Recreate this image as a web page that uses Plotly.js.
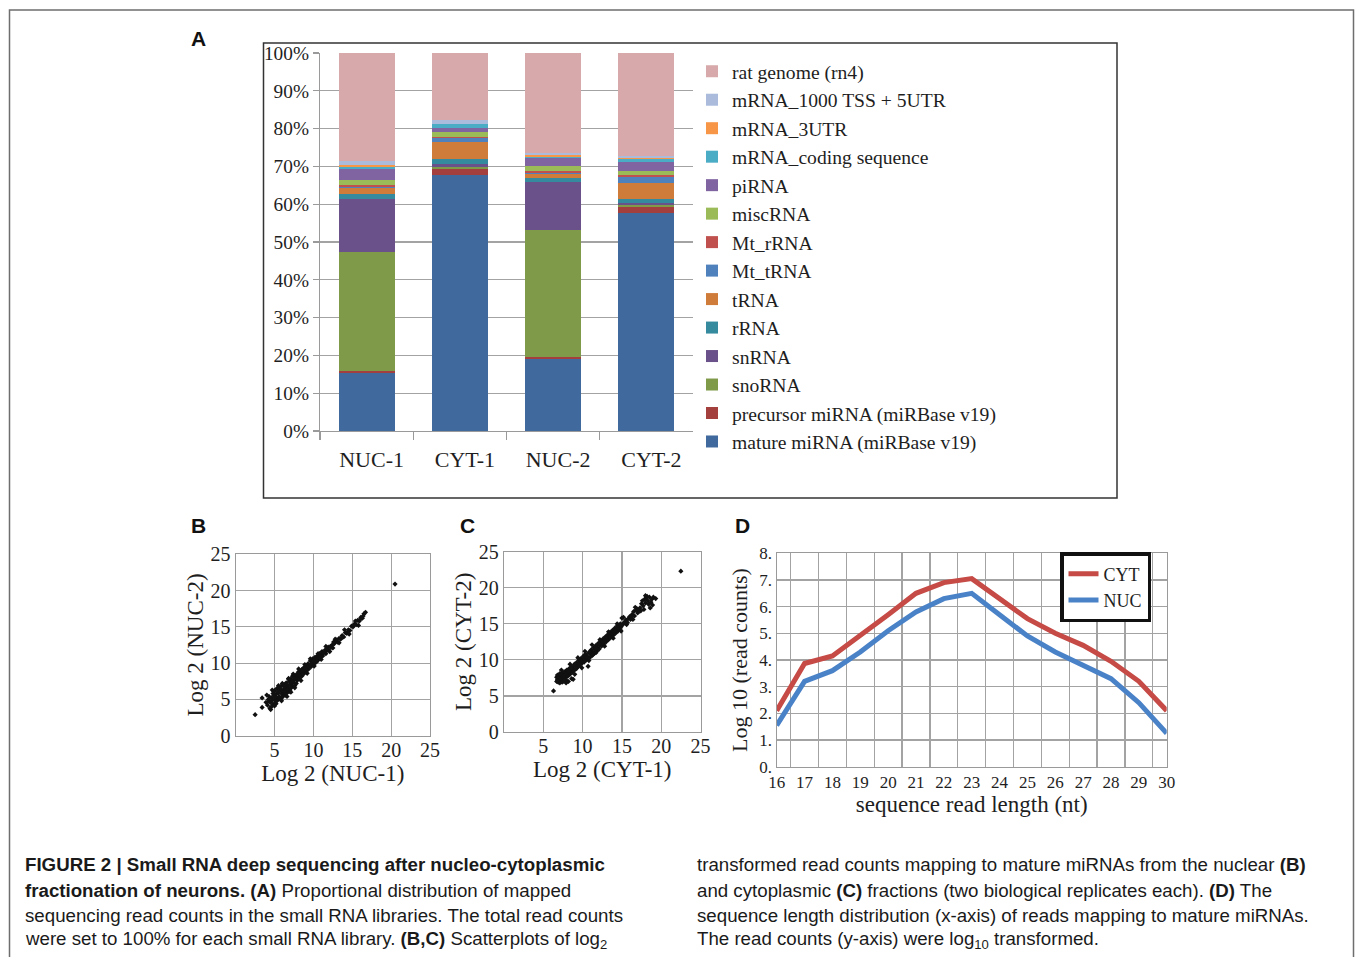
<!DOCTYPE html>
<html>
<head>
<meta charset="utf-8">
<script src="https://cdn.plot.ly/plotly-3.0.1.min.js"></script>
<style>html,body{margin:0;padding:0;background:#fff;}#chart{width:1355px;height:957px;}</style>
</head>
<body>
<div id="chart"></div>
<script>
// ---------- Panel A data (percent of reads) ----------
const categories = ['NUC-1', 'CYT-1', 'NUC-2', 'CYT-2'];
const matureMiRNA    = [15.3, 67.8, 19.0, 57.7];
const precursorMiRNA = [0.5, 1.6, 0.6, 1.6];
const snoRNA         = [31.5, 0.4, 33.7, 0.4];
const snRNA          = [14.2, 0.9, 12.5, 0.6];
const rRNA           = [1.1, 1.2, 1.1, 1.1];
const tRNA           = [1.65, 4.6, 1.1, 4.3];
const MtTRNA         = [0.35, 1.0, 0.3, 1.4];
const MtRRNA         = [0.6, 0.2, 0.55, 0.5];
const miscRNA        = [1.2, 1.3, 1.15, 1.1];
const piRNA          = [3.0, 1.2, 2.1, 2.4];
const mRNAcoding     = [0.4, 0.9, 0.5, 0.8];
const mRNA3UTR       = [0.5, 0.2, 0.3, 0.2];
const mRNA5UTR       = [1.1, 1.1, 0.7, 0.7];
const ratGenome      = [28.6, 17.6, 26.4, 27.2];

const pctTicks  = [0, 10, 20, 30, 40, 50, 60, 70, 80, 90, 100];
const pctLabels = ['0%', '10%', '20%', '30%', '40%', '50%', '60%', '70%', '80%', '90%', '100%'];

// ---------- Panel B data: log2 NUC-1 vs NUC-2 ----------
const nucPairs = [
 [2.5,2.9],[3.4,3.9],[3.4,5.2],[3.9,4.6],[4.1,4.2],[4.2,5.0],[4.3,5.4],[4.4,3.8],[4.5,4.6],[4.6,5.2],
 [4.7,4.9],[4.8,5.8],[4.8,4.3],[4.9,5.5],[5.0,5.0],[5.0,6.2],[5.1,4.6],[5.2,5.7],[5.3,5.2],[5.3,6.5],
 [5.4,4.9],[5.5,5.9],[5.6,5.4],[5.7,6.3],[5.8,5.0],[5.8,6.8],[5.9,5.8],[6.0,6.1],[6.1,5.5],[6.1,6.9],
 [6.2,6.4],[6.3,5.8],[6.4,6.7],[6.5,6.2],[6.5,7.3],[6.6,5.9],[6.7,6.9],[6.8,6.5],[6.9,7.5],[7.0,7.0],
 [7.0,6.3],[7.1,7.8],[7.2,7.2],[7.3,6.8],[7.4,7.6],[7.5,8.1],[7.5,7.3],[7.6,6.9],[7.7,7.9],[7.8,8.4],
 [7.9,7.6],[8.0,8.1],[8.1,8.8],[8.2,7.9],[8.3,8.4],[8.4,8.9],[8.5,8.2],[8.6,8.7],[8.7,9.3],[8.8,8.6],
 [8.9,9.0],[9.0,9.6],[9.1,8.9],[9.2,9.3],[9.3,9.9],[9.4,9.2],[9.5,9.7],[9.6,10.3],[9.7,9.5],[9.8,10.0],
 [9.9,10.6],[10.0,9.8],[10.1,10.3],[10.2,10.8],[10.3,10.1],[10.4,10.5],[10.5,11.0],[10.6,10.4],[10.7,10.8],[10.8,11.3],
 [10.9,10.7],[11.0,11.1],[11.1,11.6],[11.2,11.0],[11.3,11.4],[11.5,11.8],[11.6,11.3],[11.7,11.7],[11.9,12.2],[12.0,11.8],
 [12.2,12.3],[12.4,12.5],[12.5,12.1],[12.7,12.7],[12.9,13.0],[13.1,12.9],[13.3,13.4],[13.5,13.3],[13.7,13.8],[13.9,13.6],
 [14.1,14.2],[14.3,14.1],[14.5,14.6],[14.7,14.5],[14.9,15.1],[15.1,15.0],[15.3,15.4],[15.5,15.3],[15.7,15.9],[15.9,15.8],
 [16.1,16.3],[16.3,16.2],[16.5,16.8],[16.7,17.0],[20.5,20.9],
 [4.3,4.7],[4.6,4.0],[4.9,6.1],[5.1,5.3],[5.2,4.4],[5.4,6.0],[5.6,6.6],[5.7,5.1],[5.9,6.3],[6.0,5.3],
 [6.2,7.0],[6.3,6.1],[6.4,5.6],[6.6,7.1],[6.7,6.4],[6.8,7.8],[6.9,6.1],[7.1,6.6],[7.2,7.5],[7.3,8.2],
 [7.6,7.8],[7.8,7.2],[8.0,8.6],[8.2,8.3],[8.5,9.1],[8.7,8.5],[9.0,9.2],[9.3,9.6],[9.6,9.7],[10.0,10.3],
 [10.4,10.2],[10.8,10.9],[11.2,11.4],[11.8,11.9],[12.3,12.2],[13.0,13.2],[13.6,13.5],[14.4,14.3],[15.2,15.2],[16.0,16.0],
 [4.0,5.6],[4.5,3.6],[4.7,6.3],[5.0,4.1],[5.5,6.9],[5.9,4.8],[6.0,7.2],[6.6,5.4],[6.8,7.9],[7.1,6.0],
 [7.4,8.5],[7.6,6.6],[8.1,9.2],[8.4,7.6],[8.9,9.8],[9.2,8.6],[9.6,10.6],[10.1,9.6],[10.6,11.3],[11.0,10.5],
 [11.6,12.3],[12.1,11.6],[12.8,13.3],[13.3,12.8],[14.0,14.6],[14.6,14.0],[15.4,15.8],[15.8,15.2],[16.4,16.5],[12.6,12.9]
];

// ---------- Panel C data: log2 CYT-1 vs CYT-2 ----------
const cytPairs = [
 [6.3,5.7],[6.7,7.0],[6.7,7.6],[6.8,7.3],[6.8,7.9],[6.9,6.9],[6.9,7.5],[7.0,7.2],[7.0,7.8],[7.1,6.8],
 [7.1,7.4],[7.2,8.0],[7.2,7.1],[7.3,7.6],[7.4,7.3],[7.4,8.2],[7.5,7.0],[7.5,7.7],[7.6,7.4],[7.7,8.0],
 [7.8,7.6],[7.8,8.4],[7.9,7.2],[8.0,7.9],[8.1,8.5],[8.2,7.0],[8.2,8.2],[8.3,8.8],[8.4,8.0],[8.5,8.5],
 [8.6,9.0],[8.7,8.3],[8.8,7.3],[8.8,8.8],[8.9,9.3],[9.0,8.6],[9.1,9.1],[9.2,9.6],[9.3,8.9],[9.4,9.4],
 [9.5,9.9],[9.6,9.2],[9.7,9.7],[9.8,10.2],[9.9,9.5],[10.0,10.0],[10.1,10.5],[10.2,9.7],[10.3,10.2],[10.4,10.8],
 [10.5,10.0],[10.6,10.5],[10.7,9.1],[10.8,11.0],[10.9,10.3],[11.0,10.8],[11.1,11.4],[11.2,10.6],[11.3,11.1],[11.4,11.7],
 [11.5,10.9],[11.6,11.4],[11.7,12.0],[11.8,11.2],[11.9,11.7],[12.0,12.3],[12.1,11.5],[12.2,12.0],[12.3,12.6],[12.4,11.9],
 [12.5,12.4],[12.6,12.9],[12.7,12.2],[12.8,12.7],[12.9,13.2],[13.0,12.5],[13.1,13.0],[13.2,13.5],[13.3,12.8],[13.4,13.3],
 [13.5,13.8],[13.6,13.1],[13.7,13.6],[13.8,14.1],[13.9,13.4],[14.0,13.9],[14.1,14.4],[14.2,13.7],[14.3,14.2],[14.4,14.7],
 [14.5,14.0],[14.6,14.5],[14.7,14.3],[14.8,15.0],[14.9,14.6],[15.0,15.8],[15.1,14.9],[15.3,15.2],[15.5,15.5],[15.6,14.9],
 [15.8,15.7],[16.0,16.0],[16.1,15.6],[16.3,16.3],[16.5,16.7],[16.6,16.1],[16.8,16.9],[17.0,16.5],[17.3,17.2],[17.5,17.8],
 [17.6,18.2],[17.7,17.5],[17.9,18.4],[18.0,17.9],[18.1,18.6],[18.3,18.2],[18.4,17.7],[18.5,18.7],[18.6,17.2],[18.7,18.0],
 [18.8,18.4],[19.3,18.5],[22.5,22.3],
 [6.8,7.1],[7.0,7.6],[7.1,8.1],[7.2,7.4],[7.3,7.9],[7.4,6.9],[7.5,8.3],[7.6,7.8],[7.7,7.2],[7.9,8.0],
 [8.0,8.6],[8.1,7.7],[8.3,8.4],[8.5,8.9],[8.6,7.4],[9.0,9.4],[9.2,8.8],[9.5,9.5],[9.8,9.8],[10.2,10.6],
 [10.5,10.3],[10.9,11.1],[11.3,10.7],[11.7,11.6],[12.1,12.2],[12.6,12.5],[13.0,13.1],[13.5,13.2],[14.1,14.0],[14.6,14.8],
 [15.4,15.1],[16.2,15.9],[16.9,17.1],[17.8,17.0],[18.2,18.8],
 [7.3,8.6],[7.9,6.8],[8.4,9.4],[9.0,8.0],[9.4,10.3],[9.9,8.9],[10.3,11.2],[10.8,9.9],[11.2,12.1],[11.7,11.0],
 [12.2,12.8],[12.8,11.9],[13.3,13.9],[13.9,13.0],[14.4,15.0],[14.9,14.0],[15.2,15.9],[15.7,15.2],[16.4,15.6],[17.2,16.8],
 [17.4,16.8],[18.0,18.9],[18.9,17.6],[19.0,18.7],[16.7,17.3]
];
const scatterTicks = [0, 5, 10, 15, 20, 25];
const scatterXTicks = [5, 10, 15, 20, 25];

// ---------- Panel D data: log10 read counts by read length ----------
const readLengths = ['16','17','18','19','20','21','22','23','24','25','26','27','28','29','30'];
const cytCounts = [2.1, 3.87, 4.15, 4.9, 5.7, 6.5, 6.9, 7.05, 6.3, 5.55, 5.0, 4.55, 3.95, 3.2, 2.1];
const nucCounts = [1.55, 3.2, 3.6, 4.3, 5.1, 5.8, 6.3, 6.5, 5.7, 4.9, 4.3, 3.8, 3.3, 2.4, 1.25];
const dTickVals = [0, 1, 2, 3, 4, 5, 6, 7, 8];
const dTickText = ['0.', '1.', '2.', '3.', '4.', '5.', '6.', '7.', '8.'];

// ---------- helpers ----------
const W = 1355, H = 957;
const fx = x => x / W;
const fy = y => 1 - y / H;
const SERIF = 'Liberation Serif, Times New Roman, serif';
const SANS = 'Liberation Sans, Arial, Helvetica, sans-serif';
const GRID = '#a3a3a3';
const TXT = '#1e1e1e';

const barSeries = [
  ['mature miRNA (miRBase v19)', matureMiRNA, '#40699d'],
  ['precursor miRNA (miRBase v19)', precursorMiRNA, '#a3403e'],
  ['snoRNA', snoRNA, '#7f9a48'],
  ['snRNA', snRNA, '#6a5189'],
  ['rRNA', rRNA, '#358a9e'],
  ['tRNA', tRNA, '#cf7b3a'],
  ['Mt_tRNA', MtTRNA, '#4f81bd'],
  ['Mt_rRNA', MtRRNA, '#c0504d'],
  ['miscRNA', miscRNA, '#9bbb59'],
  ['piRNA', piRNA, '#8064a2'],
  ['mRNA_coding sequence', mRNAcoding, '#4bacc6'],
  ['mRNA_3UTR', mRNA3UTR, '#f79646'],
  ['mRNA_1000 TSS + 5UTR', mRNA5UTR, '#aabbdb'],
  ['rat genome (rn4)', ratGenome, '#d8a9aa']
];

const traces = barSeries.map(([name, vals, color]) => ({
  type: 'bar', name: name, x: categories, y: vals,
  marker: {color: color, line: {width: 0}},
  xaxis: 'x', yaxis: 'y', legend: 'legend'
}));

traces.push({
  type: 'scatter', mode: 'markers', x: nucPairs.map(p => p[0]), y: nucPairs.map(p => p[1]),
  marker: {symbol: 'diamond', size: 4, color: '#111'}, xaxis: 'x2', yaxis: 'y2', showlegend: false
});
traces.push({
  type: 'scatter', mode: 'markers', x: cytPairs.map(p => p[0]), y: cytPairs.map(p => p[1]),
  marker: {symbol: 'diamond', size: 4, color: '#111'}, xaxis: 'x3', yaxis: 'y3', showlegend: false
});
traces.push({
  type: 'scatter', mode: 'lines', name: 'CYT', x: readLengths, y: cytCounts,
  line: {color: '#c64a45', width: 5}, xaxis: 'x4', yaxis: 'y4', legend: 'legend2'
});
traces.push({
  type: 'scatter', mode: 'lines', name: 'NUC', x: readLengths, y: nucCounts,
  line: {color: '#4a82c8', width: 5}, xaxis: 'x4', yaxis: 'y4', legend: 'legend2'
});

function scatterAxes(xd, yd, xTitle, yTitle) {
  const common = {
    range: [0, 25], showgrid: true, gridcolor: GRID, gridwidth: 1.2,
    showline: true, linecolor: '#9a9a9a', linewidth: 1.2, mirror: true,
    zeroline: false, ticks: '', tickfont: {family: SERIF, size: 20, color: TXT}, fixedrange: true
  };
  return [
    Object.assign({}, common, {domain: xd, tickvals: scatterXTicks, ticklabelstandoff: -4,
      title: {text: xTitle, font: {family: SERIF, size: 23, color: TXT}, standoff: 0}}),
    Object.assign({}, common, {domain: yd, tickvals: scatterTicks,
      title: {text: yTitle, font: {family: SERIF, size: 23, color: TXT}, standoff: 0}})
  ];
}
const [bx, by] = scatterAxes([fx(235.7), fx(430)], [fy(735.7), fy(554.3)], 'Log 2 (NUC-1)', 'Log 2 (NUC-2)');
const [cx, cy] = scatterAxes([fx(504), fx(700.5)], [fy(732), fy(551.7)], 'Log 2 (CYT-1)', 'Log 2 (CYT-2)');

function capLine(x, y, text) {
  return {xref: 'paper', yref: 'paper', x: fx(x), y: fy(y), xanchor: 'left', yanchor: 'middle',
    text: text, showarrow: false, align: 'left', font: {family: SANS, size: 18.7, color: '#1a1a1a'}};
}
function panelLabel(x, y, t) {
  return {xref: 'paper', yref: 'paper', x: fx(x), y: fy(y), xanchor: 'center', yanchor: 'middle',
    text: '<b>' + t + '</b>', showarrow: false, font: {family: SANS, size: 21, color: '#111'}};
}

const layout = {
  width: W, height: H,
  margin: {l: 0, r: 0, t: 0, b: 0},
  paper_bgcolor: '#fff', plot_bgcolor: 'rgba(0,0,0,0)',
  showlegend: true,
  barmode: 'stack', bargap: 0.4,
  xaxis: {
    domain: [fx(320), fx(693)], type: 'category', tickson: 'boundaries',
    ticks: 'outside', ticklen: 8, tickcolor: '#9a9a9a', tickwidth: 1.2,
    showline: true, linecolor: '#9a9a9a', linewidth: 1.2, showgrid: false,
    tickfont: {family: SERIF, size: 22, color: TXT}, ticklabelstandoff: 8, ticklabelshift: 5, fixedrange: true
  },
  yaxis: {
    domain: [fy(431), fy(53)], range: [0, 100], tickvals: pctTicks, ticktext: pctLabels,
    ticks: 'outside', ticklen: 6, tickcolor: '#9a9a9a', tickwidth: 1.2,
    showline: true, linecolor: '#9a9a9a', linewidth: 1.2,
    showgrid: true, gridcolor: GRID, gridwidth: 1.3, zeroline: false,
    tickfont: {family: SERIF, size: 19.3, color: TXT}, fixedrange: true
  },
  xaxis2: Object.assign(bx, {anchor: 'y2'}),
  yaxis2: Object.assign(by, {anchor: 'x2'}),
  xaxis3: Object.assign(cx, {anchor: 'y3'}),
  yaxis3: Object.assign(cy, {anchor: 'x3'}),
  xaxis4: {
    domain: [fx(776.7), fx(1166.7)], anchor: 'y4', type: 'category', tickson: 'boundaries',
    ticks: '', showgrid: true, gridcolor: GRID, gridwidth: 1.2,
    showline: true, linecolor: '#9a9a9a', linewidth: 1.2, mirror: true,
    tickfont: {family: SERIF, size: 17, color: TXT}, fixedrange: true,
    title: {text: 'sequence read length (nt)', font: {family: SERIF, size: 23, color: TXT}, standoff: 1}
  },
  yaxis4: {
    domain: [fy(766.7), fy(553.3)], anchor: 'x4', range: [0, 8],
    tickvals: dTickVals, ticktext: dTickText, ticks: '',
    showgrid: true, gridcolor: GRID, gridwidth: 1.2, zeroline: false,
    showline: true, linecolor: '#9a9a9a', linewidth: 1.2, mirror: true,
    tickfont: {family: SERIF, size: 17, color: TXT}, fixedrange: true,
    title: {text: 'Log 10 (read counts)', font: {family: SERIF, size: 22, color: TXT}, standoff: 5}
  },
  legend: {
    x: fx(692), y: fy(52), xanchor: 'left', yanchor: 'top',
    traceorder: 'reversed', font: {family: SERIF, size: 19.6, color: TXT},
    bgcolor: 'rgba(0,0,0,0)', borderwidth: 0
  },
  legend2: {
    x: fx(1060), y: fy(552), xanchor: 'left', yanchor: 'top',
    traceorder: 'normal', font: {family: SERIF, size: 18, color: TXT},
    bgcolor: '#fff', bordercolor: '#111', borderwidth: 3.5, tracegroupgap: 0
  },
  shapes: [
    {type: 'rect', xref: 'paper', yref: 'paper', x0: fx(9.5), x1: fx(1353.5), y0: fy(962), y1: fy(10),
      line: {color: '#6e6e6e', width: 1.5}, fillcolor: 'rgba(0,0,0,0)', layer: 'below'},
    {type: 'rect', xref: 'paper', yref: 'paper', x0: fx(263.5), x1: fx(1117), y0: fy(498), y1: fy(43),
      line: {color: '#333', width: 1.5}, fillcolor: 'rgba(0,0,0,0)', layer: 'below'}
  ],
  annotations: [
    panelLabel(198, 39, 'A'), panelLabel(198, 525, 'B'), panelLabel(467, 525, 'C'), panelLabel(742, 525, 'D'),
    capLine(23, 864, '<b>FIGURE 2 | Small RNA deep sequencing after nucleo-cytoplasmic</b>'),
    capLine(23, 890, '<b>fractionation of neurons. (A)</b> Proportional distribution of mapped'),
    capLine(23, 915, 'sequencing read counts in the small RNA libraries. The total read counts'),
    capLine(23, 940, 'were set to 100% for each small RNA library. <b>(B,C)</b> Scatterplots of log<sub>2</sub>'),
    capLine(695, 864, 'transformed read counts mapping to mature miRNAs from the nuclear <b>(B)</b>'),
    capLine(695, 890, 'and cytoplasmic <b>(C)</b> fractions (two biological replicates each). <b>(D)</b> The'),
    capLine(695, 915, 'sequence length distribution (x-axis) of reads mapping to mature miRNAs.'),
    capLine(695, 940, 'The read counts (y-axis) were log<sub>10</sub> transformed.')
  ]
};

Plotly.newPlot('chart', traces, layout, {displayModeBar: false, staticPlot: true});
</script>
</body>
</html>
